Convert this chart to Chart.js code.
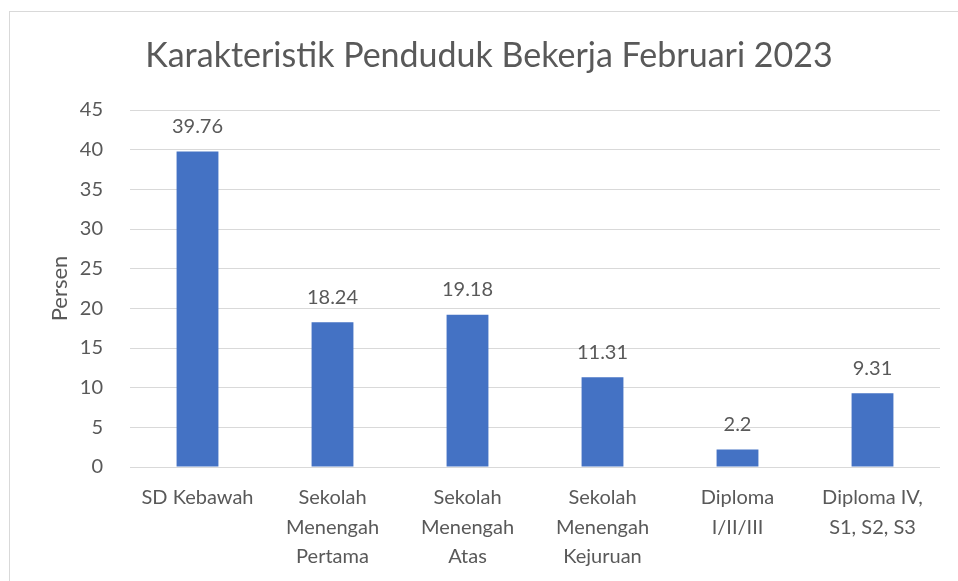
<!DOCTYPE html>
<html>
<head>
<meta charset="utf-8">
<script src="https://cdn.jsdelivr.net/npm/chart.js@4"></script>
<style>
  html, body { margin: 0; padding: 0; background: #fff; overflow: hidden; }
  #frame { position: absolute; left: 9px; top: 11px; width: 1000px; height: 1000px; border: 1px solid #d9d9d9; }
  #wrap { position: absolute; left: 0; top: 0; width: 958px; height: 581px; }
</style>
</head>
<body>
<div id="frame"></div>
<div id="wrap"><canvas id="grafik"></canvas></div>
<script>
// kategori pendidikan (label sumbu x, dipecah per baris)
const kategori = [
  ['SD Kebawah'],
  ['Sekolah', 'Menengah', 'Pertama'],
  ['Sekolah', 'Menengah', 'Atas'],
  ['Sekolah', 'Menengah', 'Kejuruan'],
  ['Diploma', 'I/II/III'],
  ['Diploma IV,', 'S1, S2, S3']
];
// persentase penduduk bekerja
const persen = [39.76, 18.24, 19.18, 11.31, 2.2, 9.31];
const labelNilai = ['39.76', '18.24', '19.18', '11.31', '2.2', '9.31'];
const judul = 'Karakteristik Penduduk Bekerja Februari 2023';

const abu = '#595959';
const fontUtama = 'Lato, "Open Sans", sans-serif';

// judul digambar sendiri supaya bisa ditengahkan terhadap bingkai
const judulChart = {
  id: 'judulChart',
  afterDraw(chart) {
    const ctx = chart.ctx;
    ctx.save();
    ctx.fillStyle = abu;
    ctx.font = '34px ' + fontUtama;
    ctx.textAlign = 'center';
    ctx.textBaseline = 'middle';
    ctx.fillText(judul, 489, 56);
    ctx.restore();
  }
};

// plugin sederhana untuk menulis nilai di atas batang
const labelBatang = {
  id: 'labelBatang',
  afterDatasetsDraw(chart) {
    const ctx = chart.ctx;
    const meta = chart.getDatasetMeta(0);
    ctx.save();
    ctx.fillStyle = abu;
    ctx.font = '20px ' + fontUtama;
    ctx.textAlign = 'center';
    ctx.textBaseline = 'middle';
    meta.data.forEach((bar, i) => {
      ctx.fillText(labelNilai[i], bar.x, bar.y - 25);
    });
    ctx.restore();
  }
};

new Chart(document.getElementById('grafik'), {
  type: 'bar',
  data: {
    labels: kategori,
    datasets: [{
      data: persen,
      backgroundColor: '#4472c4',
      borderWidth: 0,
      categoryPercentage: 1,
      barPercentage: 0.31
    }]
  },
  options: {
    responsive: true,
    maintainAspectRatio: false,
    animation: false,
    layout: { padding: { left: 0, right: 18, top: 110, bottom: 0 } },
    plugins: {
      legend: { display: false },
      tooltip: { enabled: false },
      title: { display: false }
    },
    scales: {
      x: {
        grid: { display: false, drawTicks: false },
        border: { display: false },
        ticks: {
          color: abu,
          font: { family: fontUtama, size: 20, lineHeight: 1.48 },
          padding: 16,
          maxRotation: 0,
          autoSkip: false
        },
        afterFit(scale) { scale.height = 114; }
      },
      y: {
        min: 0,
        max: 45,
        ticks: {
          stepSize: 5,
          color: abu,
          font: { family: fontUtama, size: 20 },
          padding: 27
        },
        grid: { color: '#d9d9d9', lineWidth: 1, drawTicks: false },
        border: { display: false },
        title: {
          display: true,
          text: 'Persen',
          color: abu,
          font: { family: fontUtama, size: 22, lineHeight: 1.2 },
          padding: { top: 47, bottom: 0 }
        },
        afterFit(scale) { scale.width = 130; }
      }
    }
  },
  plugins: [labelBatang, judulChart]
});
</script>
</body>
</html>
